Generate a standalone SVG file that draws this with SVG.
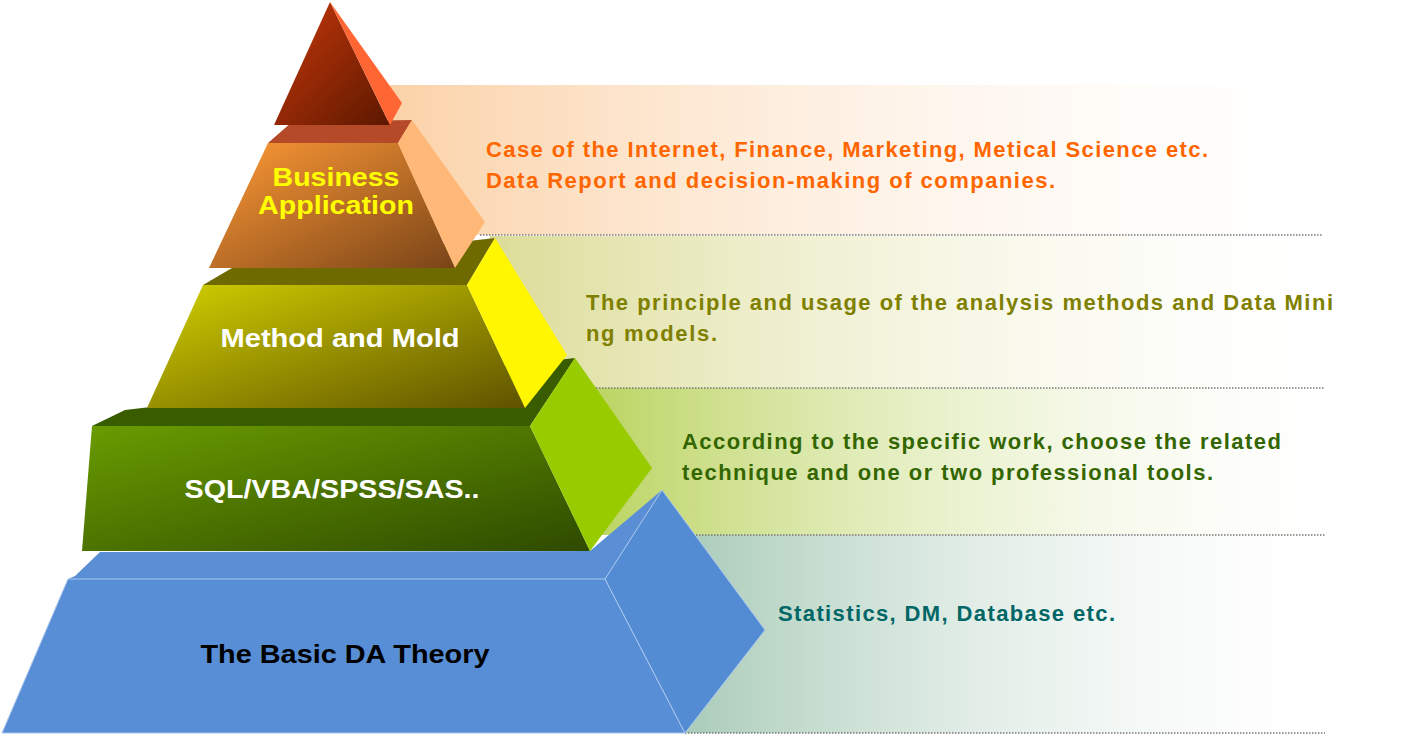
<svg xmlns="http://www.w3.org/2000/svg" width="1416" height="737" viewBox="0 0 1416 737">
<style>
text{font-family:"Liberation Sans",Arial,sans-serif;font-weight:bold}
.lab{font-size:26px;text-anchor:middle}
.d{font-size:22px}
.dot{stroke:#777;stroke-width:1.5;stroke-dasharray:1.5 1.5}
</style>
<defs>
<linearGradient id="b1" x1="0" x2="1"><stop offset="0" stop-color="#fbd2a8"/><stop offset="1" stop-color="#fff" stop-opacity="0.2"/></linearGradient>
<linearGradient id="b2" x1="0" x2="1"><stop offset="0" stop-color="#dcdc98"/><stop offset="1" stop-color="#fff" stop-opacity="0.2"/></linearGradient>
<linearGradient id="b3" x1="0" x2="1"><stop offset="0" stop-color="#b8d25a"/><stop offset="1" stop-color="#fff" stop-opacity="0.2"/></linearGradient>
<linearGradient id="b4" x1="0" x2="1"><stop offset="0" stop-color="#a4c8b4"/><stop offset="1" stop-color="#fff" stop-opacity="0.2"/></linearGradient>
<linearGradient id="tri" x1="0" y1="0" x2="1" y2="1"><stop offset="0" stop-color="#c8380a"/><stop offset="1" stop-color="#5c1800"/></linearGradient>
<linearGradient id="f1" x1="0" y1="0" x2="1" y2="1"><stop offset="0" stop-color="#ff9a36"/><stop offset="1" stop-color="#7a4418"/></linearGradient>
<linearGradient id="f2" x1="0" y1="0" x2="1" y2="1"><stop offset="0" stop-color="#d2d000"/><stop offset="1" stop-color="#5e5200"/></linearGradient>
<linearGradient id="f3" x1="0" y1="0" x2="1" y2="1"><stop offset="0" stop-color="#6a9c00"/><stop offset="1" stop-color="#2e4a00"/></linearGradient>
</defs>
<g id="bands">
<rect x="390" y="85" width="920" height="150" fill="url(#b1)"/>
<rect x="490" y="236" width="835" height="152" fill="url(#b2)"/>
<rect x="575" y="388" width="750" height="147" fill="url(#b3)"/>
<rect x="660" y="535" width="665" height="198" fill="url(#b4)"/>
</g>
<g id="connectors">
<line class="dot" x1="480" y1="235" x2="1322" y2="235"/>
<line class="dot" x1="560" y1="388" x2="1325" y2="388"/>
<line class="dot" x1="645" y1="535" x2="1325" y2="535"/>
<line class="dot" x1="685" y1="733" x2="1325" y2="733"/>
</g>
<g id="base">
<polygon points="75,576 100,552 590,551 662,490 605,579 68,579" fill="#5a8fd6"/>
<polygon points="68,579 605,579 685,733 2,733" fill="#578ed6" stroke="#a9c6ee" stroke-width="1"/>
<polygon points="605,579 662,490 765,630 685,733" fill="#548cd4" stroke="#a9c6ee" stroke-width="1"/>
<text class="lab" x="345" y="663" fill="#000" textLength="289" lengthAdjust="spacingAndGlyphs">The Basic DA Theory</text>
</g>
<g id="sql">
<polygon points="92,426 125,410 575,358 530,426" fill="#3a5c00"/>
<polygon points="92,426 530,426 590,551 82,551" fill="url(#f3)"/>
<polygon points="530,426 575,358 652,468 590,551" fill="#99cc00"/>
<text class="lab" x="332" y="498" fill="#fff" textLength="295" lengthAdjust="spacingAndGlyphs">SQL/VBA/SPSS/SAS..</text>
</g>
<g id="method">
<polygon points="203,285 232,268 495,238 467,285" fill="#6e6a00"/>
<polygon points="203,285 467,285 525,408 147,408" fill="url(#f2)"/>
<polygon points="467,285 495,238 567,355 525,408" fill="#fff600"/>
<text class="lab" x="340" y="347" fill="#fff" textLength="239" lengthAdjust="spacingAndGlyphs">Method and Mold</text>
</g>
<g id="business">
<polygon points="268,143 292,122 412,120 398,143" fill="#b44a28"/>
<polygon points="268,143 398,143 455,268 209,268" fill="url(#f1)"/>
<polygon points="398,143 412,120 485,222 455,268" fill="#ffb877"/>
<text class="lab" x="336" y="186" fill="#ffff00" textLength="127" lengthAdjust="spacingAndGlyphs">Business</text>
<text class="lab" x="336" y="214" fill="#ffff00" textLength="156" lengthAdjust="spacingAndGlyphs">Application</text>
</g>
<g id="top">
<polygon points="330,2 274,125 390,125" fill="url(#tri)"/>
<polygon points="330,2 402,103 390,125" fill="#ff6633"/>
</g>
<g id="texts">
<text class="d" x="486" y="157" fill="#ff6600" textLength="722">Case of the Internet, Finance, Marketing, Metical Science etc.</text>
<text class="d" x="486" y="188" fill="#ff6600" textLength="569">Data Report and decision-making of companies.</text>
<text class="d" x="586" y="310" fill="#7f7f00" textLength="747">The principle and usage of the analysis methods and Data Mini</text>
<text class="d" x="586" y="341" fill="#7f7f00" textLength="131">ng models.</text>
<text class="d" x="682" y="449" fill="#336600" textLength="599">According to the specific work, choose the related</text>
<text class="d" x="682" y="480" fill="#336600" textLength="531">technique and one or two professional tools.</text>
<text class="d" x="778" y="621" fill="#006666" textLength="337">Statistics, DM, Database etc.</text>
</g>
</svg>
